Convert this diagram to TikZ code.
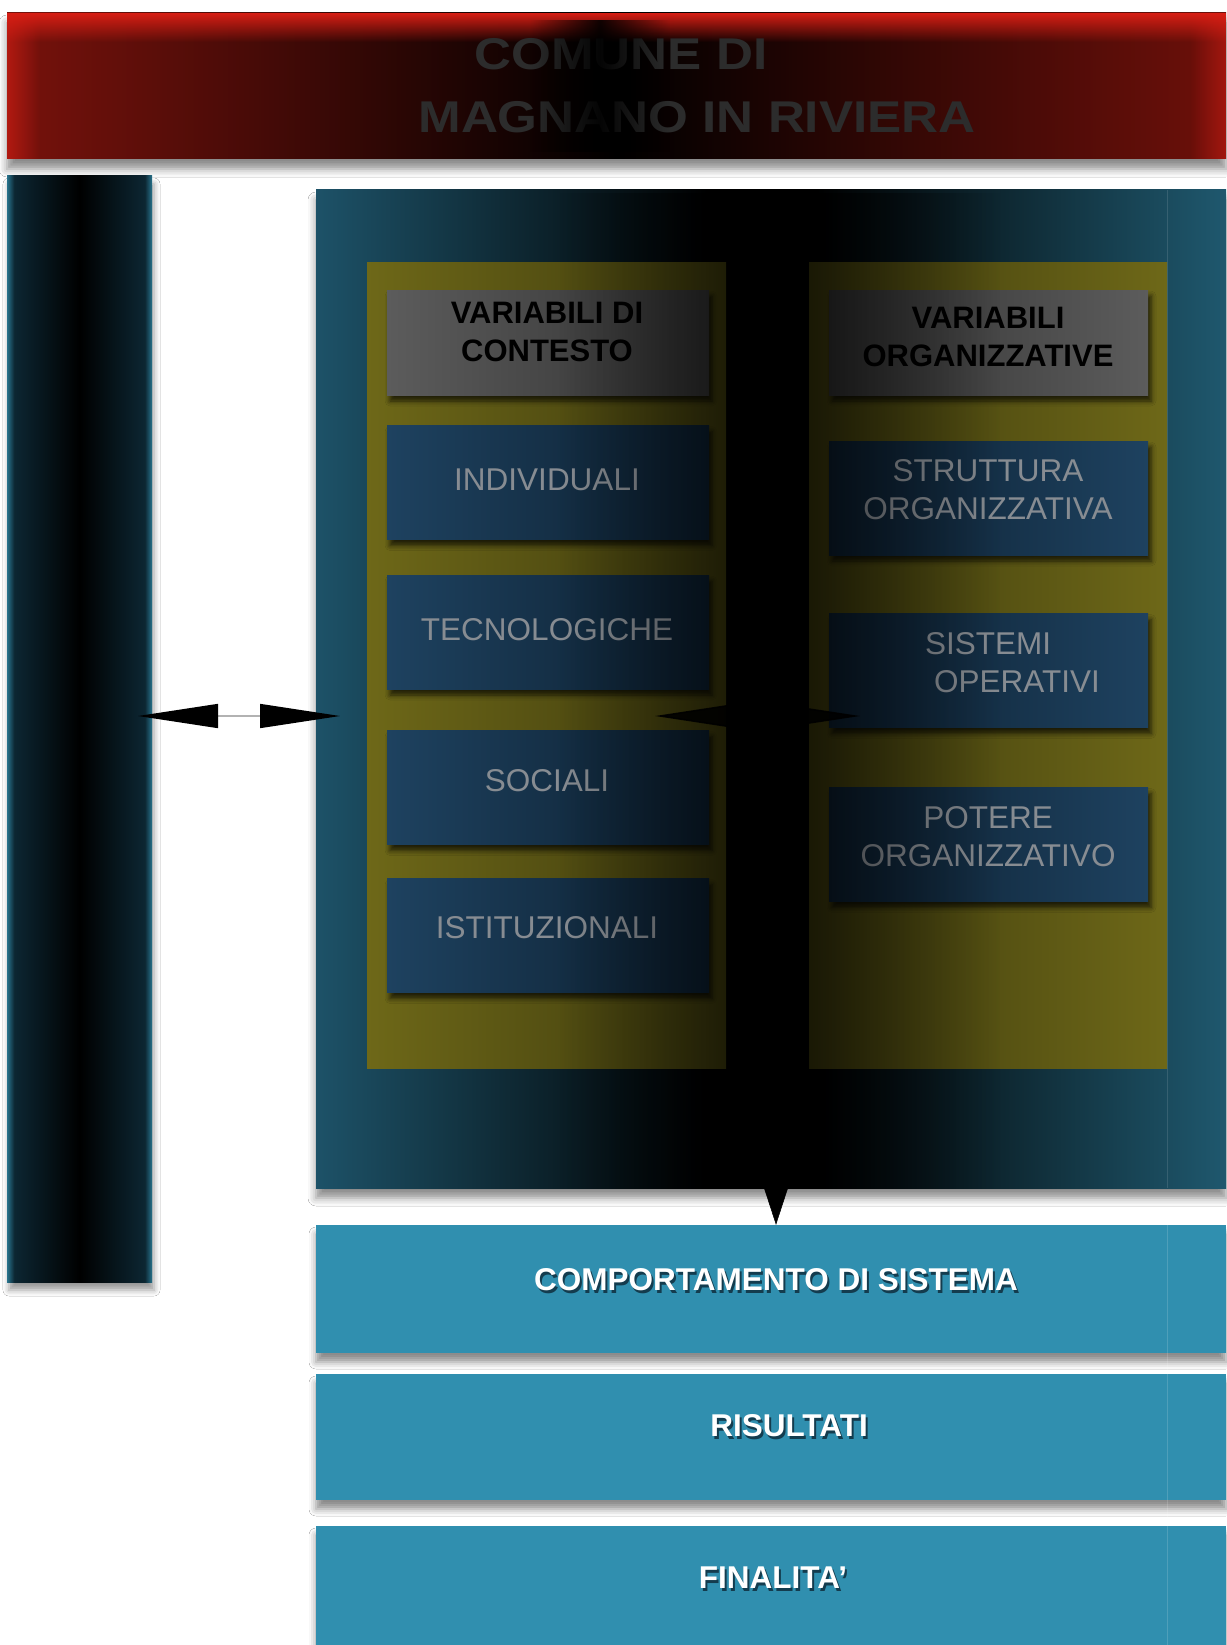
\documentclass[tikz,border=0pt]{standalone}
\usepackage{fontspec}
\setmainfont{Liberation Sans}
\newfontfamily\titlefont[FakeStretch=1.15]{Liberation Sans}
\usetikzlibrary{arrows.meta,shadows.blur,fadings}

\definecolor{titleL}{RGB}{120,18,12}
\definecolor{titleR}{RGB}{110,16,10}
\definecolor{titleTop}{RGB}{215,30,20}
\definecolor{titleText}{RGB}{44,44,44}
\definecolor{colEdge}{RGB}{40,115,140}
\definecolor{colDark}{RGB}{12,38,50}
\definecolor{tealP}{RGB}{29,82,104}
\definecolor{tealP2}{RGB}{31,88,110}
\definecolor{olive}{RGB}{110,104,24}
\definecolor{oliveD}{RGB}{60,57,13}
\definecolor{headL}{RGB}{92,92,92}
\definecolor{headD}{RGB}{48,48,48}
\definecolor{boxA}{RGB}{30,66,96}
\definecolor{boxB}{RGB}{12,30,46}
\definecolor{boxText}{RGB}{135,140,146}
\definecolor{btm}{RGB}{48,143,175}
\definecolor{btmSh}{RGB}{20,60,78}

\pgfdeclarehorizontalshading{titlesh}{100bp}{color(0bp)=(titleL); color(25bp)=(titleL); color(50bp)=(black); color(75bp)=(titleR); color(100bp)=(titleR)}
\pgfdeclarehorizontalshading{colsh}{100bp}{color(0bp)=(colEdge); color(25bp)=(colEdge); color(27.5bp)=(colDark); color(50bp)=(black); color(72.5bp)=(colDark); color(75bp)=(colEdge); color(100bp)=(colEdge)}
\pgfdeclarehorizontalshading{booksh}{100bp}{color(0bp)=(tealP); color(25bp)=(tealP); color(46.5bp)=(black); color(52.5bp)=(black); color(75bp)=(tealP2); color(100bp)=(tealP2)}

\tikzfading[name=midband, left color=transparent!100, right color=transparent!100, middle color=transparent!0]
\tikzfading[name=topdown, top color=transparent!0, bottom color=transparent!100]
\tikzfading[name=leftright, left color=transparent!0, right color=transparent!100]
\tikzfading[name=rightleft, left color=transparent!100, right color=transparent!0]

\newcommand\shtxt[1]{\makebox[0pt][l]{\kern2pt\raisebox{-3pt}{\textcolor{btmSh}{#1}}}#1}

\tikzset{
  titlebar/.style={shade, shading=titlesh, minimum width=1219pt, minimum height=146pt, inner sep=0pt,
    blur shadow={shadow xshift=0pt, shadow yshift=-10pt, shadow blur radius=8pt, shadow opacity=45}},
  titletext/.style={text=titleText, inner sep=0pt, font=\titlefont\bfseries\fontsize{44.5}{50}\selectfont},
  colbar/.style={shade, shading=colsh, minimum width=145pt, minimum height=1106pt, inner sep=0pt,
    blur shadow={shadow xshift=2pt, shadow yshift=-8pt, shadow blur radius=6pt, shadow opacity=40}},
  bookbox/.style={shade, shading=booksh, minimum width=910pt, minimum height=998pt, inner sep=0pt,
    blur shadow={shadow xshift=0pt, shadow yshift=-10pt, shadow blur radius=8pt, shadow opacity=45}},
  pagebox/.style={minimum width=359pt, minimum height=806pt, inner sep=0pt},
  innershadow/.style={blur shadow={shadow xshift=3pt, shadow yshift=-6pt, shadow blur radius=5pt, shadow opacity=70}},
  headbox/.style={minimum height=105pt, inner sep=0pt, innershadow},
  lbox/.style={minimum width=322pt, minimum height=114pt, inner sep=0pt, left color=boxA, right color=boxB, innershadow},
  rbox/.style={minimum width=319pt, minimum height=114pt, inner sep=0pt, left color=boxB, right color=boxA, innershadow},
  headtext/.style={text=black, inner sep=0pt, align=center, font=\bfseries\fontsize{31}{38}\selectfont},
  boxtext/.style={text=boxText, inner sep=0pt, align=center, font=\fontsize{31.5}{38}\selectfont},
  bottombox/.style={fill=btm, minimum width=910pt, inner sep=0pt,
    blur shadow={shadow xshift=0pt, shadow yshift=-9pt, shadow blur radius=7pt, shadow opacity=45}},
  bottomtext/.style={text=white, inner sep=0pt, font=\bfseries\fontsize{31.5}{38}\selectfont},
  dblA/.style={line width=1.5pt, draw=gray!60,
    {Triangle[length=80pt,width=24pt,color=black]}-{Triangle[length=80pt,width=24pt,color=black]}},
  dblB/.style={line width=1.5pt, draw=black, opacity=.9,
    {Triangle[length=80pt,width=24pt,color=black]}-{Triangle[length=80pt,width=24pt,color=black]}},
  downtip/.style={draw=black, line width=0.5pt, -{Triangle[length=37pt,width=24pt,color=black]}},
}

\begin{document}
\begin{tikzpicture}[x=1pt,y=-1pt]
\useasboundingbox (0,0) rectangle (1226,1645);
\fill[white] (0,0) rectangle (1226,1645);

% ---- title bar
\node[titlebar] (title) at (616.5,86) {};
\fill[titleTop, path fading=topdown] (7,13) rectangle (1226,42);
\fill[titleTop, path fading=leftright, opacity=.6] (7,13) rectangle (40,159);
\fill[titleTop, path fading=rightleft, opacity=.5] (1190,13) rectangle (1226,159);
\node[titletext] (t1) at (621,54) {COMUNE DI};
\node[titletext] (t2) at (697,117.5) {MAGNANO IN RIVIERA};
\fill[black, path fading=midband, opacity=.9] (530,20) rectangle (670,152);

% ---- left column
\node[colbar] (lcol) at (79.5,729) {};

% ---- book panel
\node[bookbox] (book) at (771,689) {};
\node[pagebox, left color=olive, right color=oliveD] (lpage) at (546.5,665) {};
\node[pagebox, minimum width=358pt, left color=oliveD, right color=olive] (rpage) at (988,665) {};

% headers
\node[headbox, minimum width=322pt, left color=headL, right color=headD] (hL) at (548,342.5) {};
\node[headbox, minimum width=319pt, left color=headD, right color=headL] (hR) at (988.5,342.5) {};
\node[headtext] (thL) at (547,332) {VARIABILI DI\\CONTESTO};
\node[headtext] (thR) at (988,337) {VARIABILI\\ORGANIZZATIVE};

% left boxes
\node[lbox] (b1) at (548,482.5) {};
\node[lbox] (b2) at (548,632) {};
\node[lbox] (b3) at (548,787.5) {};
\node[lbox] (b4) at (548,935.5) {};
\node[boxtext] (tb1) at (547,480) {INDIVIDUALI};
\node[boxtext] (tb2) at (547,630) {TECNOLOGICHE};
\node[boxtext] (tb3) at (547,781) {SOCIALI};
\node[boxtext] (tb4) at (547,928) {ISTITUZIONALI};

% right boxes
\node[rbox] (r1) at (988.5,498) {};
\node[rbox] (r2) at (988.5,670.5) {};
\node[rbox] (r3) at (988.5,844.5) {};
\node[boxtext] (tr1) at (988,490) {STRUTTURA\\ORGANIZZATIVA};
\node[boxtext] (tr2) at (988,663) {SISTEMI\\\hspace*{58pt}OPERATIVI};
\node[boxtext] (tr3) at (988,837) {POTERE\\ORGANIZZATIVO};

% spine darkening
\fill[black, path fading=midband, opacity=.65] (560,190) rectangle (1000,1188);

% inner double arrow
\coordinate (a2L) at (655,716);
\coordinate (a2R) at (860,716);
\draw[dblB] (a2L) -- (a2R);

% faint page edge line
\draw[white, opacity=.12, line width=1pt] (1167,190) -- (1167,1188);

% ---- bottom boxes
\node[bottombox, minimum height=128pt] (p1) at (771,1289) {};
\node[bottombox, minimum height=126pt] (p2) at (771,1437) {};
\node[bottombox, minimum height=119pt] (p3) at (771,1585.5) {};
\draw[white, opacity=.15, line width=1pt] (1167,1225) -- (1167,1645);
\node[bottomtext] (tp1) at (776,1281) {\shtxt{COMPORTAMENTO DI SISTEMA}};
\node[bottomtext] (tp2) at (789,1427) {\shtxt{RISULTATI}};
\node[bottomtext] (tp3) at (773,1579) {\shtxt{FINALITA’}};

% ---- connectors
\coordinate (a1L) at (138,716);
\coordinate (a1R) at (340,716);
\draw[dblA] (a1L) -- (a1R);
\draw[downtip] ([xshift=5pt]book.south) -- ([xshift=5pt]p1.north);
\end{tikzpicture}
\end{document}
